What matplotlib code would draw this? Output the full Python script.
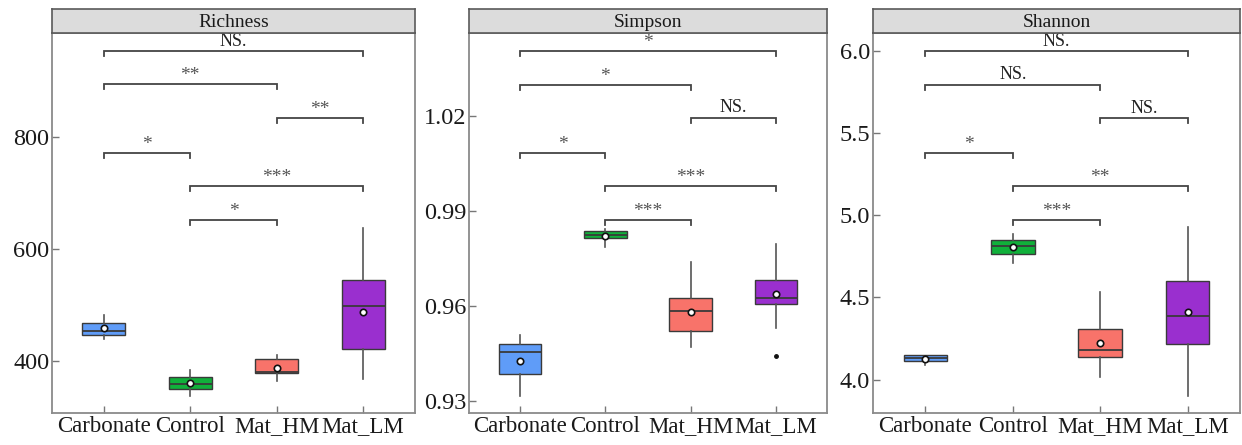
import matplotlib
matplotlib.use("Agg")
import matplotlib.pyplot as plt
from matplotlib.ticker import FormatStrFormatter

plt.rcParams['font.family'] = ['Liberation Serif', 'DejaVu Serif']

groups = ["Carbonate", "Control", "Mat_HM", "Mat_LM"]
colors = ["#5F9CF8", "#10B03A", "#F8736A", "#9A2FCF"]

# Box summaries per metric: whisker low, Q1, median, Q3, whisker high, mean
richness_whislo = [440, 337, 365, 367]
richness_q1 = [447, 349, 379, 422]
richness_med = [453, 358, 380, 499]
richness_q3 = [468, 372, 404, 545]
richness_whishi = [482, 383, 410, 638]
richness_mean = [458, 361, 388, 488]
richness_fliers = [[], [], [], []]

simpson_whislo = [0.9318, 0.9787, 0.9472, 0.9532]
simpson_q1 = [0.9386, 0.9817, 0.9521, 0.9608]
simpson_med = [0.9457, 0.9826, 0.9586, 0.9626]
simpson_q3 = [0.9482, 0.9837, 0.9626, 0.9684]
simpson_whishi = [0.9508, 0.9845, 0.9739, 0.9797]
simpson_mean = [0.9426, 0.9823, 0.9581, 0.9639]
simpson_fliers = [[], [], [], [0.9442]]

shannon_whislo = [4.087, 4.710, 4.014, 3.903]
shannon_q1 = [4.116, 4.764, 4.136, 4.219]
shannon_med = [4.132, 4.811, 4.178, 4.389]
shannon_q3 = [4.152, 4.847, 4.308, 4.598]
shannon_whishi = [4.152, 4.887, 4.533, 4.926]
shannon_mean = [4.128, 4.807, 4.223, 4.411]
shannon_fliers = [[], [], [], []]

# Pairwise comparisons: (group i, group j)
pairs = [(0, 3), (0, 2), (2, 3), (0, 1), (1, 3), (1, 2)]
richness_sig_y = [953, 894, 834, 771, 712, 652]
richness_sig = ["NS.", "**", "**", "*", "***", "*"]
simpson_sig_y = [1.0405, 1.0300, 1.0195, 1.0084, 0.9979, 0.9874]
simpson_sig = ["*", "*", "NS.", "*", "***", "***"]
shannon_sig_y = [5.996, 5.793, 5.590, 5.377, 5.174, 4.970]
shannon_sig = ["NS.", "NS.", "NS.", "*", "**", "***"]

panels = [
    dict(title="Richness", lo=richness_whislo, q1=richness_q1, med=richness_med,
         q3=richness_q3, hi=richness_whishi, mean=richness_mean, fl=richness_fliers,
         sy=richness_sig_y, sl=richness_sig, ylim=(307, 986),
         yticks=[400, 600, 800], fmt="%d"),
    dict(title="Simpson", lo=simpson_whislo, q1=simpson_q1, med=simpson_med,
         q3=simpson_q3, hi=simpson_whishi, mean=simpson_mean, fl=simpson_fliers,
         sy=simpson_sig_y, sl=simpson_sig, ylim=(0.9263, 1.0463),
         yticks=[0.93, 0.96, 0.99, 1.02], fmt="%.2f"),
    dict(title="Shannon", lo=shannon_whislo, q1=shannon_q1, med=shannon_med,
         q3=shannon_q3, hi=shannon_whishi, mean=shannon_mean, fl=shannon_fliers,
         sy=shannon_sig_y, sl=shannon_sig, ylim=(3.797, 6.107),
         yticks=[4.0, 4.5, 5.0, 5.5, 6.0], fmt="%.1f"),
]

W, H = 1242, 445
fig = plt.figure(figsize=(W / 100, H / 100), dpi=100)

# pixel boxes (left, right) for each panel; shared top/bottom
lefts_rights = [(52, 415), (469, 827), (873, 1240)]
top_px, bot_px, strip_top = 33, 413, 9

spine_col = "#8a8a8a"
for p, (l, r) in zip(panels, lefts_rights):
    ax = fig.add_axes([l / W, 1 - bot_px / H, (r - l) / W, (bot_px - top_px) / H])
    sax = fig.add_axes([l / W, 1 - top_px / H, (r - l) / W, (top_px - strip_top) / H])

    stats = []
    for i in range(4):
        stats.append(dict(whislo=p["lo"][i], q1=p["q1"][i], med=p["med"][i],
                          q3=p["q3"][i], whishi=p["hi"][i], mean=p["mean"][i],
                          fliers=p["fl"][i]))
    bp = ax.bxp(stats, positions=range(4), widths=0.5, patch_artist=True,
                showmeans=True, showcaps=False,
                boxprops=dict(edgecolor="#3a3a3a", linewidth=1.0),
                medianprops=dict(color="#3a3a3a", linewidth=1.3),
                whiskerprops=dict(color="#555555", linewidth=1.2),
                meanprops=dict(marker="o", markerfacecolor="white",
                               markeredgecolor="#111111", markersize=4.6,
                               markeredgewidth=1.2),
                flierprops=dict(marker="o", markerfacecolor="#111111",
                                markeredgecolor="#111111", markersize=2.5))
    for patch, c in zip(bp["boxes"], colors):
        patch.set_facecolor(c)

    ax.set_xlim(-0.6, 3.6)
    ax.set_ylim(*p["ylim"])
    ax.set_yticks(p["yticks"])
    ax.yaxis.set_major_formatter(FormatStrFormatter(p["fmt"]))
    ax.set_xticks(range(4))
    ax.set_xticklabels(groups, fontsize=16.5, color="#1a1a1a")
    ax.tick_params(axis="y", labelsize=17.5, labelcolor="#1a1a1a")
    ax.tick_params(direction="in", length=5, width=1.0, color="#777777", pad=2)
    for s in ax.spines.values():
        s.set_color(spine_col)
        s.set_linewidth(1.3)

    # significance brackets
    yr = p["ylim"][1] - p["ylim"][0]
    drop = 5 / (bot_px - top_px) * yr
    for (i, j), yy, lab in zip(pairs, p["sy"], p["sl"]):
        ax.plot([i, i, j, j], [yy - drop, yy, yy, yy - drop],
                color="#444444", lw=1.3, solid_joinstyle="miter")
        if lab == "NS.":
            ax.text((i + j) / 2, yy + 0.004 * yr, lab, ha="center", va="bottom",
                    fontsize=13, color="#222222")
        else:
            ax.text((i + j) / 2, yy, lab, ha="center", va="bottom",
                    fontsize=14, color="#555555")

    sax.set_facecolor("#dcdcdc")
    sax.set_xticks([])
    sax.set_yticks([])
    for s in sax.spines.values():
        s.set_color("#5a5a5a")
        s.set_linewidth(1.2)
    sax.text(0.5, 0.45, p["title"], ha="center", va="center",
             fontsize=14, color="#1a1a1a", transform=sax.transAxes)

fig.savefig("out.png", dpi=100)
